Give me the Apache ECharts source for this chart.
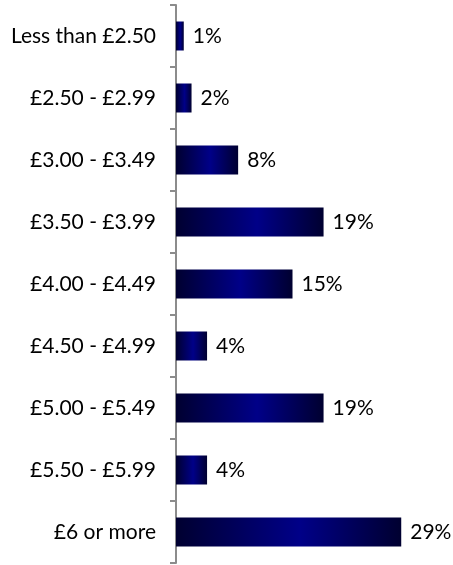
<!DOCTYPE html>
<html>
<head>
<meta charset="utf-8">
<script src="https://cdn.jsdelivr.net/npm/echarts@6/dist/echarts.min.js"></script>
<style>
  html, body { margin: 0; padding: 0; background: #fff; }
  #main { width: 453px; height: 565px; }
</style>
</head>
<body>
<div id="main"></div>
<script>
var categories = ['Less than £2.50', '£2.50 - £2.99', '£3.00 - £3.49', '£3.50 - £3.99',
  '£4.00 - £4.49', '£4.50 - £4.99', '£5.00 - £5.49', '£5.50 - £5.99', '£6 or more'];
var shares = [1, 2, 8, 19, 15, 4, 19, 4, 29];

var chart = echarts.init(document.getElementById('main'), null, { renderer: 'canvas' });

// dark - blue - dark, like the original bar fill
var barFill = new echarts.graphic.LinearGradient(0, 0, 1, 0, [
  { offset: 0, color: '#000030' },
  { offset: 0.55, color: '#000088' },
  { offset: 1, color: '#000030' }
]);

var option = {
  backgroundColor: '#ffffff',
  animation: false,
  grid: { left: 176, top: 5, bottom: 2, width: 233 },
  xAxis: {
    type: 'value',
    min: 0,
    max: 30,
    show: false
  },
  yAxis: {
    type: 'category',
    inverse: true,
    data: categories,
    axisLine: { lineStyle: { color: '#8c8c8c', width: 2 } },
    axisTick: { show: true, length: 6, lineStyle: { color: '#8c8c8c', width: 2 } },
    axisLabel: {
      margin: 20,
      color: '#000',
      fontFamily: 'Lato',
      fontSize: 21
    }
  },
  series: [{
    type: 'bar',
    data: shares,
    barWidth: 29,
    itemStyle: { color: barFill },
    label: {
      show: true,
      position: 'right',
      distance: 9,
      color: '#000',
      fontFamily: 'Lato',
      fontSize: 21,
      formatter: '{c}%'
    }
  }]
};

chart.setOption(option);
</script>
</body>
</html>
